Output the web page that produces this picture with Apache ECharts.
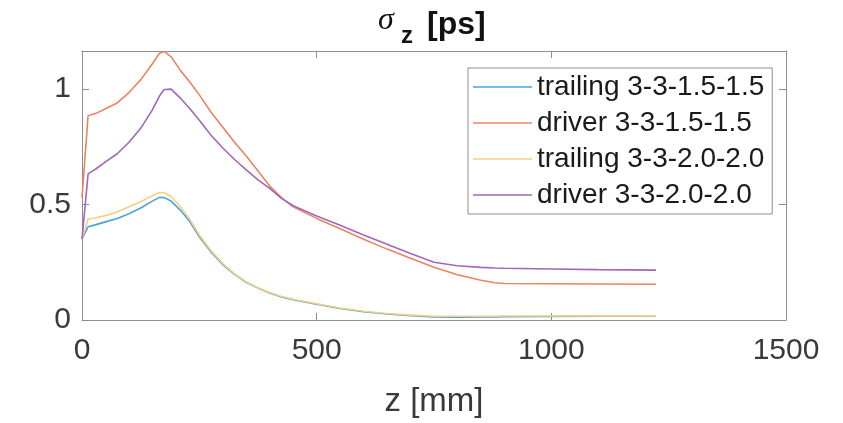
<!DOCTYPE html>
<html>
<head>
<meta charset="utf-8">
<script src="https://cdn.jsdelivr.net/npm/echarts@6/dist/echarts.min.js"></script>
<style>
  html, body { margin: 0; padding: 0; background: #ffffff; }
  #chart { width: 843px; height: 423px; }
</style>
</head>
<body>
<div id="chart"></div>
<script>
// Position along the line, z [mm]
const zPos = [0, 13, 30, 50, 75, 100, 125, 150, 165, 175, 190, 210, 230, 250, 275, 300, 325, 350, 375, 400, 425, 450, 500, 550, 600, 650, 700, 750, 800, 850, 880, 900, 1000, 1100, 1223];

// Bunch length sigma_z [ps]
const trailing15 = [0.35, 0.404, 0.413, 0.425, 0.44, 0.46, 0.485, 0.515, 0.531, 0.53, 0.515, 0.475, 0.425, 0.36, 0.295, 0.24, 0.198, 0.163, 0.138, 0.117, 0.10, 0.088, 0.068, 0.05, 0.036, 0.026, 0.019, 0.013, 0.012, 0.013, 0.013, 0.014, 0.015, 0.016, 0.017];
const driver15   = [0.53, 0.885, 0.895, 0.915, 0.94, 0.985, 1.04, 1.11, 1.155, 1.163, 1.14, 1.08, 1.03, 0.975, 0.9, 0.835, 0.77, 0.71, 0.645, 0.58, 0.53, 0.49, 0.44, 0.395, 0.35, 0.307, 0.267, 0.228, 0.196, 0.172, 0.161, 0.158, 0.157, 0.156, 0.155];
const trailing20 = [0.35, 0.436, 0.443, 0.452, 0.468, 0.49, 0.512, 0.538, 0.552, 0.551, 0.535, 0.49, 0.435, 0.368, 0.30, 0.244, 0.20, 0.165, 0.14, 0.119, 0.102, 0.09, 0.07, 0.052, 0.038, 0.028, 0.021, 0.016, 0.016, 0.016, 0.016, 0.017, 0.017, 0.018, 0.018];
const driver20   = [0.35, 0.633, 0.655, 0.685, 0.72, 0.77, 0.83, 0.91, 0.97, 0.998, 1.0, 0.96, 0.915, 0.865, 0.80, 0.745, 0.695, 0.65, 0.607, 0.57, 0.527, 0.495, 0.45, 0.41, 0.368, 0.328, 0.288, 0.25, 0.235, 0.228, 0.225, 0.224, 0.221, 0.218, 0.216];

const seriesNames = ['trailing 3-3-1.5-1.5', 'driver 3-3-1.5-1.5', 'trailing 3-3-2.0-2.0', 'driver 3-3-2.0-2.0'];
const seriesValues = [trailing15, driver15, trailing20, driver20];
const seriesColors = ['#4aa3dd', '#ea8460', '#f6cf80', '#a466b8'];

const xTicks = [0, 500, 1000, 1500];
const yTicks = [0, 0.5, 1];

const AX = '#8e8e8e';
const TXT = '#3a3a3a';
const FONT = '"Liberation Sans", Arial, Helvetica, sans-serif';

const pairs = v => zPos.map((z, i) => [z, v[i]]);

const chart = echarts.init(document.getElementById('chart'), null, { renderer: 'canvas' });

// mirrored box edges (top / right) with inward ticks, no labels
const mirrorAxis = (pos, max, ticks) => ({
  type: 'value', min: 0, max: max, position: pos,
  axisLine: { show: true, onZero: false, lineStyle: { color: AX, width: 1 } },
  axisTick: { show: true, inside: true, length: 7, lineStyle: { color: AX }, customValues: ticks },
  axisLabel: { show: false },
  splitLine: { show: false }
});

chart.setOption({
  backgroundColor: '#ffffff',
  animation: false,
  grid: { left: 82, right: 57, top: 51, bottom: 97, containLabel: false },
  xAxis: [
    {
      type: 'value', min: 0, max: 1500, interval: 500, position: 'bottom',
      axisLine: { show: true, onZero: false, lineStyle: { color: AX, width: 1 } },
      axisTick: { show: true, inside: true, length: 7, lineStyle: { color: AX }, customValues: xTicks },
      axisLabel: { show: true, color: TXT, fontFamily: FONT, fontSize: 30, margin: 16, customValues: xTicks, formatter: v => String(v) },
      splitLine: { show: false },
      name: 'z [mm]', nameLocation: 'middle', nameGap: 65,
      nameTextStyle: { color: TXT, fontFamily: FONT, fontSize: 33 }
    },
    mirrorAxis('top', 1500, [500, 1000])
  ],
  yAxis: [
    {
      type: 'value', min: 0, max: 1.165, position: 'left',
      axisLine: { show: true, onZero: false, lineStyle: { color: AX, width: 1 } },
      axisTick: { show: true, inside: true, length: 7, lineStyle: { color: AX }, customValues: yTicks },
      axisLabel: { show: true, color: TXT, fontFamily: FONT, fontSize: 30, margin: 11, customValues: yTicks, formatter: v => String(v) },
      splitLine: { show: false }
    },
    mirrorAxis('right', 1.165, [0.5, 1])
  ],
  legend: {
    orient: 'vertical',
    left: 468, top: 68,
    data: seriesNames,
    icon: 'rect',
    itemWidth: 59, itemHeight: 1.6, itemGap: 8,
    padding: [5, 8, 5, 5],
    backgroundColor: '#ffffff',
    borderColor: AX, borderWidth: 1, borderRadius: 0,
    textStyle: { color: '#1a1a1a', fontFamily: FONT, fontSize: 28, lineHeight: 28 }
  },
  graphic: [
    { type: 'text', left: 378, top: 5, style: { text: 'σ', fill: '#111', font: 'italic 32px "Liberation Serif", "DejaVu Serif", serif' } },
    { type: 'text', left: 401, top: 24, style: { text: 'z', fill: '#111', font: 'bold 24px ' + FONT } },
    { type: 'text', left: 427, top: 9, style: { text: '[ps]', fill: '#111', font: 'bold 32px ' + FONT } }
  ],
  series: seriesNames.map((name, i) => ({
    name,
    type: 'line',
    data: pairs(seriesValues[i]),
    showSymbol: false,
    symbol: 'none',
    smooth: false,
    lineStyle: { color: seriesColors[i], width: 1.6 },
    itemStyle: { color: seriesColors[i] },
    z: 2 + i
  }))
});
</script>
</body>
</html>
